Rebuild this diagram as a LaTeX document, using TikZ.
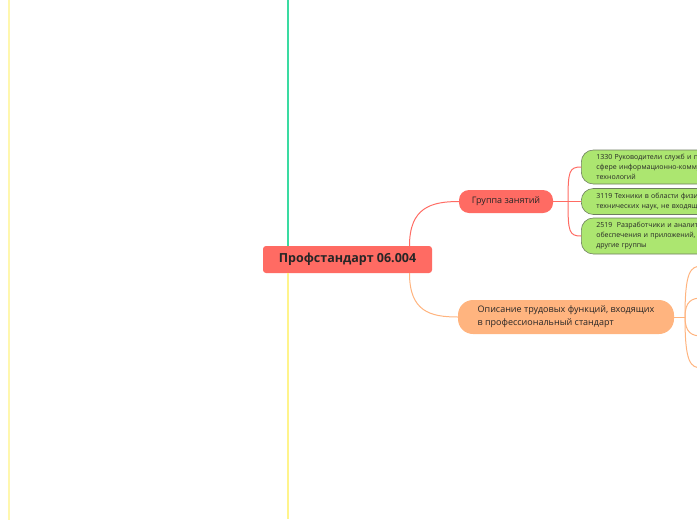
\documentclass[tikz,border=0pt]{standalone}
\usepackage{fontspec}
\setmainfont{Open Sans}
\usetikzlibrary{positioning}

\definecolor{topicred}{HTML}{FF6B63}
\definecolor{peach}{HTML}{FFB47F}
\definecolor{leaf}{HTML}{ACE670}
\definecolor{leafedge}{HTML}{6E7D60}
\definecolor{mint}{HTML}{3ADBA2}
\definecolor{lemon}{HTML}{FFF48C}
\definecolor{palelemon}{HTML}{FFF7AE}

\begin{document}
\begin{tikzpicture}[x=1pt, y=-1pt,
    every node/.style={text=black!85, inner sep=0pt},
    centraltopic/.style={fill=topicred, rounded corners=3pt,
      minimum width=169pt, minimum height=27pt,
      font=\fontsize{12.5}{14}\selectfont\bfseries},
    redtopic/.style={fill=topicred, rounded corners=10pt,
      minimum width=94pt, minimum height=23pt,
      font=\fontsize{9}{11}\selectfont},
    peachtopic/.style={fill=peach, rounded corners=15pt,
      minimum width=216pt, minimum height=34pt, align=left,
      font=\fontsize{9}{13}\selectfont},
    leaftopic/.style={draw=leafedge, line width=0.6pt, fill=leaf,
      rounded corners=12pt, anchor=west, text width=200pt,
      inner xsep=15pt, inner ysep=2pt, align=left,
      font=\fontsize{7}{10}\selectfont},
    redline/.style={draw=topicred, line width=1pt},
    peachline/.style={draw=peach, line width=1pt},
  ]
  \useasboundingbox (0,0) rectangle (697,520);
  \clip (0,0) rectangle (697,520);

  % guide lines
  \draw[palelemon, line width=2pt] (8.5,0) -- (8.5,520);

  \node[centraltopic] (root) at (347.5,259.5) {Профстандарт 06.004};
  \draw[mint, line width=1.2pt] (root.north -| 288,0) -- (288,0);
  \draw[lemon, line width=1.2pt] (root.south -| 288,0) -- (288,519);

  \node[redtopic] (group) at (506,201.5) {Группа занятий};
  \node[peachtopic] (labour) at (566,317)
    {Описание трудовых функций, входящих\\в профессиональный стандарт};

  \node[leaftopic, minimum height=34pt] (okz1) at (581,167)
    {1330 Руководители служб и подразделений в\\
     сфере информационно-коммуникационных\\технологий};
  \node[leaftopic, minimum height=26pt] (okz2) at (581,201.5)
    {3119 Техники в области физических и\\
     технических наук, не входящие в другие группы};
  \node[leaftopic, minimum height=36pt] (okz3) at (581,236)
    {2519\ \ Разработчики и аналитики программного\\
     обеспечения и приложений, не входящие в\\другие группы};

  \draw[redline] ([xshift=62pt]root.north)
    .. controls +(0,-38) and +(-28,0) .. (group.west);
  \draw[peachline] ([xshift=62pt]root.south)
    .. controls +(0,38) and +(-28,0) .. (labour.west);

  \coordinate (gfork) at (568,201.5);
  \draw[redline] (group.east) -- (gfork) -- (okz2.west);
  \draw[redline] (gfork) .. controls +(0,-30) and +(-12,0) .. (okz1.west);
  \draw[redline] (gfork) .. controls +(0,30) and +(-12,0) .. (okz3.west);

  % branches running off the right edge
  \coordinate (lfork) at (685,317);
  \coordinate (out1) at (702,266);
  \coordinate (out2) at (702,298);
  \coordinate (out3) at (702,336);
  \coordinate (out4) at (702,368);
  \draw[peachline] (labour.east) -- (lfork);
  \draw[peachline] (lfork) .. controls +(0,-45) and +(-12,0) .. (out1);
  \draw[peachline] (lfork) .. controls +(0,-16) and +(-10,0) .. (out2);
  \draw[peachline] (lfork) .. controls +(0,16) and +(-10,0) .. (out3);
  \draw[peachline] (lfork) .. controls +(0,45) and +(-12,0) .. (out4);
\end{tikzpicture}
\end{document}
